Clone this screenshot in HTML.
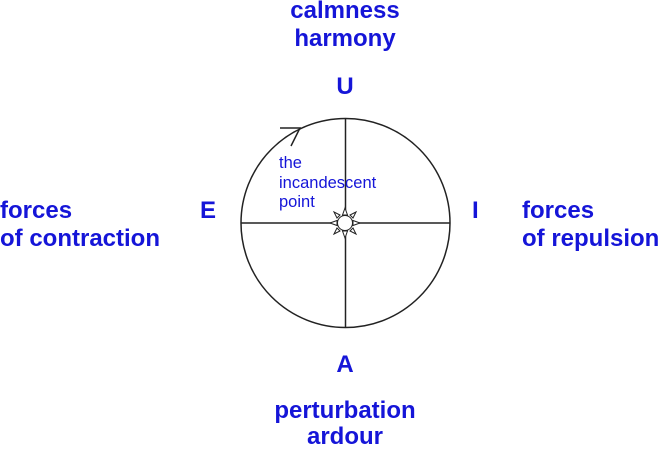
<!DOCTYPE html>
<html><head><style>
html,body{margin:0;padding:0;background:#fff;}
svg{display:block;}
.b{font-family:"Liberation Sans",Arial,sans-serif;font-weight:bold;font-size:24px;fill:#1515d8;}
.s{font-family:"Liberation Sans",Arial,sans-serif;font-size:16.5px;fill:#1515d8;}
</style></head><body>
<svg width="661" height="449" viewBox="0 0 661 449" xmlns="http://www.w3.org/2000/svg">
<text class="b" x="345" y="18" text-anchor="middle">calmness</text>
<text class="b" x="345" y="46" text-anchor="middle">harmony</text>
<text class="b" x="345" y="94" text-anchor="middle">U</text>
<text class="b" x="345" y="372" text-anchor="middle">A</text>
<text class="b" x="345" y="418" text-anchor="middle">perturbation</text>
<text class="b" x="345" y="444" text-anchor="middle">ardour</text>
<text class="b" x="0" y="218">forces</text>
<text class="b" x="0" y="246">of contraction</text>
<text class="b" x="200" y="218">E</text>
<text class="b" x="472" y="218">I</text>
<text class="b" x="522" y="218">forces</text>
<text class="b" x="522" y="246">of repulsion</text>
<g stroke="#222" stroke-width="1.5" fill="none">
<circle cx="345.5" cy="223" r="104.5"/>
<line x1="345.5" y1="118" x2="345.5" y2="328"/>
<line x1="241" y1="223" x2="450" y2="223"/>
<polyline points="280,128 300,128 291,146"/>
</g>
<g stroke="#222" stroke-width="1" fill="#fff">
<polygon points="345,208 347.5,215 342.5,215"/>
<polygon points="345,238 347.5,231 342.5,231"/>
<polygon points="330,223 337,220.5 337,225.5"/>
<polygon points="360,223 353,220.5 353,225.5"/>
<polygon points="334,212 340,215 337,218"/>
<polygon points="356,212 350,215 353,218"/>
<polygon points="334,234 340,231 337,228"/>
<polygon points="356,234 350,231 353,228"/>
<circle cx="345" cy="223" r="7.5"/>
</g>
<text class="s" x="279" y="168">the</text>
<text class="s" x="279" y="188">incandescent</text>
<text class="s" x="279" y="207">point</text>
</svg>
</body></html>
